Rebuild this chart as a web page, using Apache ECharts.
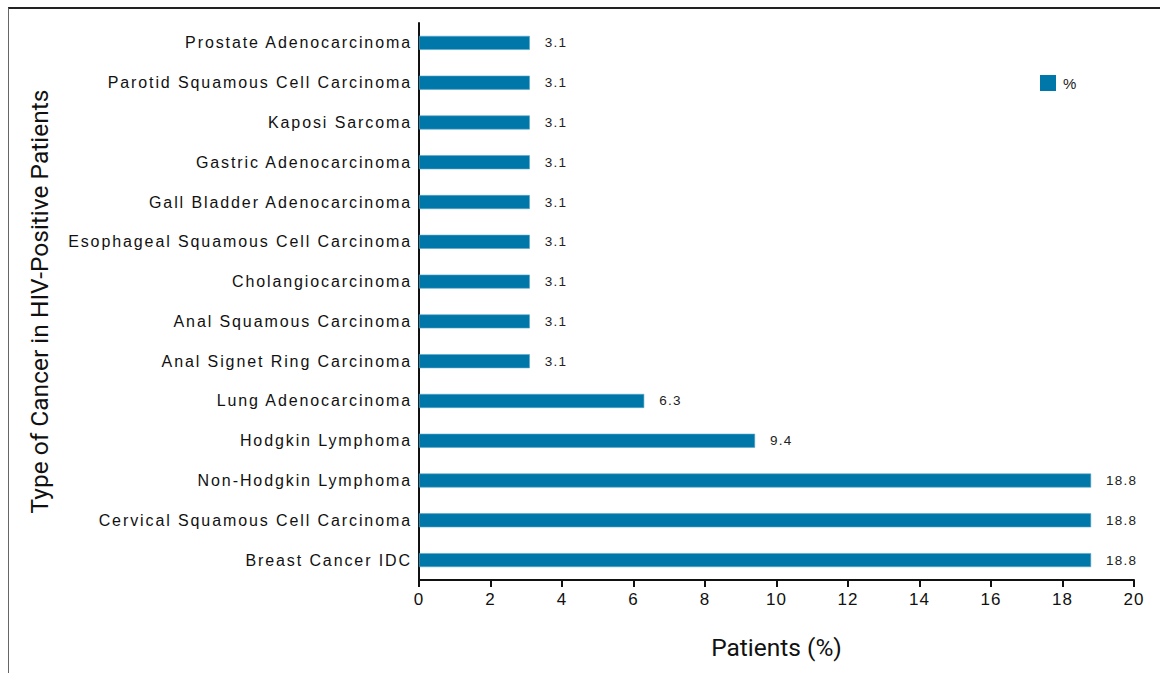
<!DOCTYPE html>
<html>
<head>
<meta charset="utf-8">
<script src="https://cdn.jsdelivr.net/npm/echarts@6/dist/echarts.min.js"></script>
<style>
  html, body { margin: 0; padding: 0; background: #fff; }
  #frame { position: absolute; left: 8px; top: 7px; width: 1152px; height: 666px;
           border-top: 2px solid #222; border-left: 1px solid #666; box-sizing: border-box; }
  #chart { position: absolute; left: 0; top: 0; width: 1160px; height: 673px; }
</style>
</head>
<body>
<div id="frame"></div>
<div id="chart"></div>
<script>
// Cancer types, listed top to bottom
const categories = [
  'Prostate Adenocarcinoma',
  'Parotid Squamous Cell Carcinoma',
  'Kaposi Sarcoma',
  'Gastric Adenocarcinoma',
  'Gall Bladder Adenocarcinoma',
  'Esophageal Squamous Cell Carcinoma',
  'Cholangiocarcinoma',
  'Anal Squamous Carcinoma',
  'Anal Signet Ring Carcinoma',
  'Lung Adenocarcinoma',
  'Hodgkin Lymphoma',
  'Non-Hodgkin Lymphoma',
  'Cervical Squamous Cell Carcinoma',
  'Breast Cancer IDC'
];
// Share of patients (%)
const percentValues = [3.1, 3.1, 3.1, 3.1, 3.1, 3.1, 3.1, 3.1, 3.1, 6.3, 9.4, 18.8, 18.8, 18.8];
const seriesName = '%';
const xTicks = { min: 0, max: 20, interval: 2 };

const FONT = '"Liberation Sans", Arial, sans-serif';
const TITLE_FONT = 'Roboto, "Liberation Sans", sans-serif';
const BAR = '#0077a9';

const fmt = v => v.toFixed(1);

const chart = echarts.init(document.getElementById('chart'), null, { renderer: 'svg' });
chart.setOption({
  animation: false,
  textStyle: { fontFamily: FONT },
  grid: { left: 419, right: 26, top: 23, bottom: 93, containLabel: false },
  legend: {
    data: [seriesName],
    left: 1040, top: 75, padding: 0,
    icon: 'rect', itemWidth: 16, itemHeight: 16, itemGap: 6,
    itemStyle: { borderWidth: 0 },
    textStyle: { fontFamily: FONT, fontSize: 15, color: '#222', padding: [0, 0, 0, 2] }
  },
  xAxis: {
    type: 'value',
    min: xTicks.min, max: xTicks.max, interval: xTicks.interval,
    name: 'Patients (%)',
    nameLocation: 'middle', nameGap: 55,
    nameTextStyle: { fontFamily: TITLE_FONT, fontSize: 24.5, color: '#111' },
    axisLine: { show: true, lineStyle: { color: '#111', width: 2 } },
    axisTick: { show: true, length: 7, lineStyle: { color: '#111', width: 2 } },
    axisLabel: { fontFamily: FONT, fontSize: 17, color: '#111', margin: 11 },
    splitLine: { show: false }
  },
  yAxis: {
    type: 'category',
    data: categories,
    inverse: true,
    name: 'Type of Cancer in HIV-Positive Patients',
    nameLocation: 'middle', nameGap: 367, nameRotate: 90,
    nameTextStyle: { fontFamily: TITLE_FONT, fontSize: 24.5, color: '#111' },
    axisLine: { show: true, lineStyle: { color: '#111', width: 2 } },
    axisTick: { show: false },
    axisLabel: { fontFamily: FONT, fontSize: 16, color: '#111', margin: 7 },
    splitLine: { show: false }
  },
  series: [{
    name: seriesName,
    type: 'bar',
    data: percentValues,
    barWidth: 14,
    itemStyle: { color: BAR, borderColor: '#5aa6c8', borderWidth: 0.6 },
    label: {
      show: true, position: 'right', distance: 15,
      fontFamily: FONT, fontSize: 13.5, color: '#222',
      formatter: p => fmt(p.value)
    }
  }]
});

// Tracked lettering for category, value and tick labels
const catSet = new Set(categories);
const valSet = new Set(percentValues.map(fmt));
function trackLabels() {
  document.querySelectorAll('#chart text').forEach(t => {
    const s = t.textContent;
    if (catSet.has(s)) t.style.letterSpacing = '1.9px';
    else if (valSet.has(s)) t.style.letterSpacing = '1.2px';
    else if (/^\d+$/.test(s)) t.style.letterSpacing = '1px';
  });
}
chart.on('finished', trackLabels);
trackLabels();
setTimeout(trackLabels, 0);
</script>
</body>
</html>
